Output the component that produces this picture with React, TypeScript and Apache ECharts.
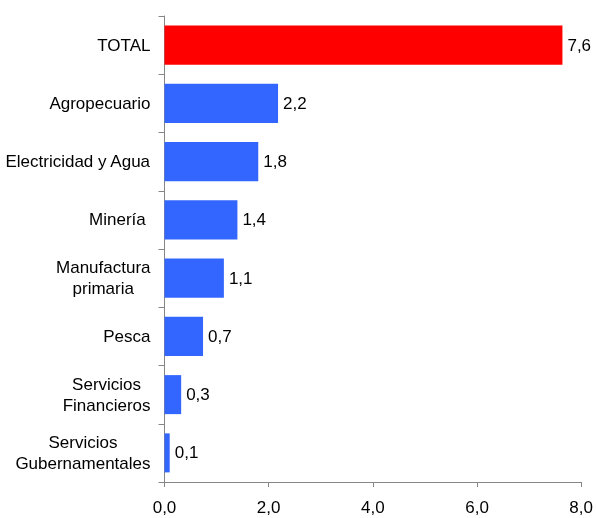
import React, { useEffect, useRef } from "react";
import * as echarts from "echarts";

const categories = [
  "TOTAL",
  "Agropecuario",
  "Electricidad y Agua",
  "Minería ",
  "Manufactura\nprimaria",
  "Pesca",
  "Servicios\nFinancieros",
  "Servicios\nGubernamentales",
];
const values = [7.64, 2.18, 1.8, 1.4, 1.14, 0.74, 0.32, 0.1];
const barColors = ["#FF0000", "#3366FF", "#3366FF", "#3366FF", "#3366FF", "#3366FF", "#3366FF", "#3366FF"];
const xTicks = { min: 0, max: 8, interval: 2 };

const FONT = "'Liberation Sans', Arial, Helvetica, sans-serif";
const FS = 17;
const fmt = (v: number) => v.toFixed(1).replace(".", ",");

export default function App() {
  const ref = useRef<HTMLDivElement>(null);
  useEffect(() => {
    if (!ref.current) return;
    const chart = echarts.init(ref.current, null, { renderer: "svg" });
    chart.setOption({
      animation: false,
      grid: { left: 164.5, right: 12, top: 16, bottom: 36, containLabel: false },
      xAxis: {
        type: "value",
        min: xTicks.min,
        max: xTicks.max,
        interval: xTicks.interval,
        splitLine: { show: false },
        axisLine: { show: true, lineStyle: { color: "#868686", width: 1 } },
        axisTick: { show: true, length: 5, lineStyle: { color: "#868686" } },
        axisLabel: {
          color: "#000",
          fontFamily: FONT,
          fontSize: FS,
          margin: 17,
          formatter: (v: number) => fmt(v),
        },
      },
      yAxis: {
        type: "category",
        inverse: true,
        data: categories,
        axisLine: { show: true, lineStyle: { color: "#868686", width: 1 } },
        axisTick: { show: true, length: 6, lineStyle: { color: "#868686" } },
        axisLabel: {
          color: "#000",
          fontFamily: FONT,
          fontSize: FS,
          margin: 14,
          formatter: (v: string) =>
            v
              .split("\n")
              .map((l) => `{c|${l}}`)
              .join("\n"),
          rich: {
            c: {
              align: "center",
              color: "#000",
              fontFamily: FONT,
              fontSize: FS,
              lineHeight: 21,
            },
          },
        },
      },
      series: [
        {
          type: "bar",
          data: values.map((v, i) => ({ value: v, itemStyle: { color: barColors[i] } })),
          barCategoryGap: "33%",
          label: {
            show: true,
            position: "right",
            distance: 5,
            color: "#000",
            fontFamily: FONT,
            fontSize: FS,
            formatter: (p: any) => fmt(p.value),
          },
        },
      ],
    });
    return () => chart.dispose();
  }, []);
  return (
    <div
      ref={ref}
      style={{ position: "fixed", left: 0, top: 0, width: 596, height: 518 }}
    />
  );
}
